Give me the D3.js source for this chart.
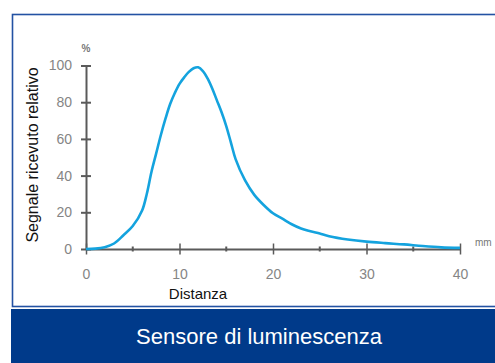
<!DOCTYPE html>
<html>
<head>
<meta charset="utf-8">
<script src="https://cdn.jsdelivr.net/npm/d3@7"></script>
<style>
  html, body { margin: 0; padding: 0; background: #fff; }
  svg { display: block; font-family: "Liberation Sans", Arial, sans-serif; }
</style>
</head>
<body>
<svg id="chart" width="495" height="363"></svg>
<script>
// Relative received signal (%) versus distance (mm)
const distance = [0, 1, 2, 3, 4, 5, 6, 6.5, 7, 7.5, 8, 8.5, 9, 9.5, 10, 10.5, 11, 11.5, 12,
                  12.5, 13, 13.5, 14, 14.5, 15, 15.5, 16, 17, 18, 19, 20, 21, 22, 23, 24,
                  25, 26, 28, 30, 32, 34, 36, 38, 40];
const signal   = [0, 0.2, 1, 3, 7.5, 12.5, 21, 30, 42, 52, 62, 71, 79, 85, 90, 93.5, 96.5, 98.5, 99,
                  97, 93, 87.5, 81, 74.5, 67, 58, 49, 37.5, 29.5, 24, 19.5, 16.5, 13.5, 11.2, 9.7,
                  8.4, 7, 5.2, 4, 3.2, 2.5, 1.6, 0.9, 0.6];
const xTicks = [0, 10, 20, 30, 40];
const xMinorTicks = [5, 15, 25, 35];
const yTicks = [0, 20, 40, 60, 80, 100];

const svg = d3.select("#chart");

// Framed white panel (its right edge runs off the page)
svg.append("rect")
  .attr("x", 12.5).attr("y", 14.5)
  .attr("width", 500).attr("height", 292)
  .attr("fill", "#fff")
  .attr("stroke", "#2352a3").attr("stroke-width", 1.6);

// Title band
svg.append("rect")
  .attr("x", 11).attr("y", 309)
  .attr("width", 490).attr("height", 60)
  .attr("fill", "#003a8a");
svg.append("text")
  .attr("x", 259).attr("y", 344)
  .attr("text-anchor", "middle")
  .attr("fill", "#fff")
  .attr("font-size", 22)
  .text("Sensore di luminescenza");

const x = d3.scaleLinear().domain([0, 40]).range([86, 460]);
const y = d3.scaleLinear().domain([0, 100]).range([249, 65.5]);

const axisColor = "#5a5a5a";
const labelColor = "#858585";

// Y axis
const gy = svg.append("g").attr("transform", `translate(${x(0)},0)`)
  .call(d3.axisLeft(y).tickValues(yTicks).tickSize(0).tickPadding(14));
gy.select(".domain").attr("stroke", axisColor).attr("stroke-width", 2);
gy.selectAll(".tick text").attr("fill", labelColor).attr("font-size", 14)
  .attr("font-family", "Liberation Sans, Arial, sans-serif");
gy.selectAll(".tick").append("line")
  .attr("x1", -5).attr("x2", 5)
  .attr("stroke", axisColor).attr("stroke-width", 2);

// X axis
const gx = svg.append("g").attr("transform", `translate(0,${y(0)})`)
  .call(d3.axisBottom(x).tickValues(xTicks).tickSize(0).tickPadding(20));
gx.select(".domain").attr("stroke", axisColor).attr("stroke-width", 2);
gx.selectAll(".tick text").attr("fill", labelColor).attr("font-size", 14)
  .attr("font-family", "Liberation Sans, Arial, sans-serif");
gx.selectAll(".tick").append("line")
  .attr("y1", -5.5).attr("y2", 5.5)
  .attr("stroke", axisColor).attr("stroke-width", 1.5);
gx.selectAll(".minor")
  .data(xMinorTicks).enter().append("line")
  .attr("x1", d => x(d)).attr("x2", d => x(d))
  .attr("y1", -2.5).attr("y2", 2.5)
  .attr("stroke", axisColor).attr("stroke-width", 2);

// Unit labels
svg.append("text")
  .attr("x", x(0)).attr("y", 52)
  .attr("text-anchor", "middle")
  .attr("fill", "#777").attr("font-size", 10).attr("font-weight", "bold")
  .text("%");
svg.append("text")
  .attr("x", 475).attr("y", y(0) - 3)
  .attr("fill", "#777").attr("font-size", 10)
  .text("mm");

// Axis titles
svg.append("text")
  .attr("x", 198).attr("y", 299)
  .attr("text-anchor", "middle")
  .attr("fill", "#111").attr("font-size", 15)
  .text("Distanza");
svg.append("text")
  .attr("transform", "translate(38,155) rotate(-90)")
  .attr("text-anchor", "middle")
  .attr("fill", "#111").attr("font-size", 16)
  .text("Segnale ricevuto relativo");

// Signal curve
const points = distance.map((d, i) => [d, signal[i]]);
const line = d3.line()
  .x(d => x(d[0]))
  .y(d => y(d[1]))
  .curve(d3.curveCatmullRom.alpha(0.5));
svg.append("path")
  .datum(points)
  .attr("d", line)
  .attr("fill", "none")
  .attr("stroke", "#14a3de")
  .attr("stroke-width", 2.6)
  .attr("stroke-linejoin", "round");
</script>
</body>
</html>
